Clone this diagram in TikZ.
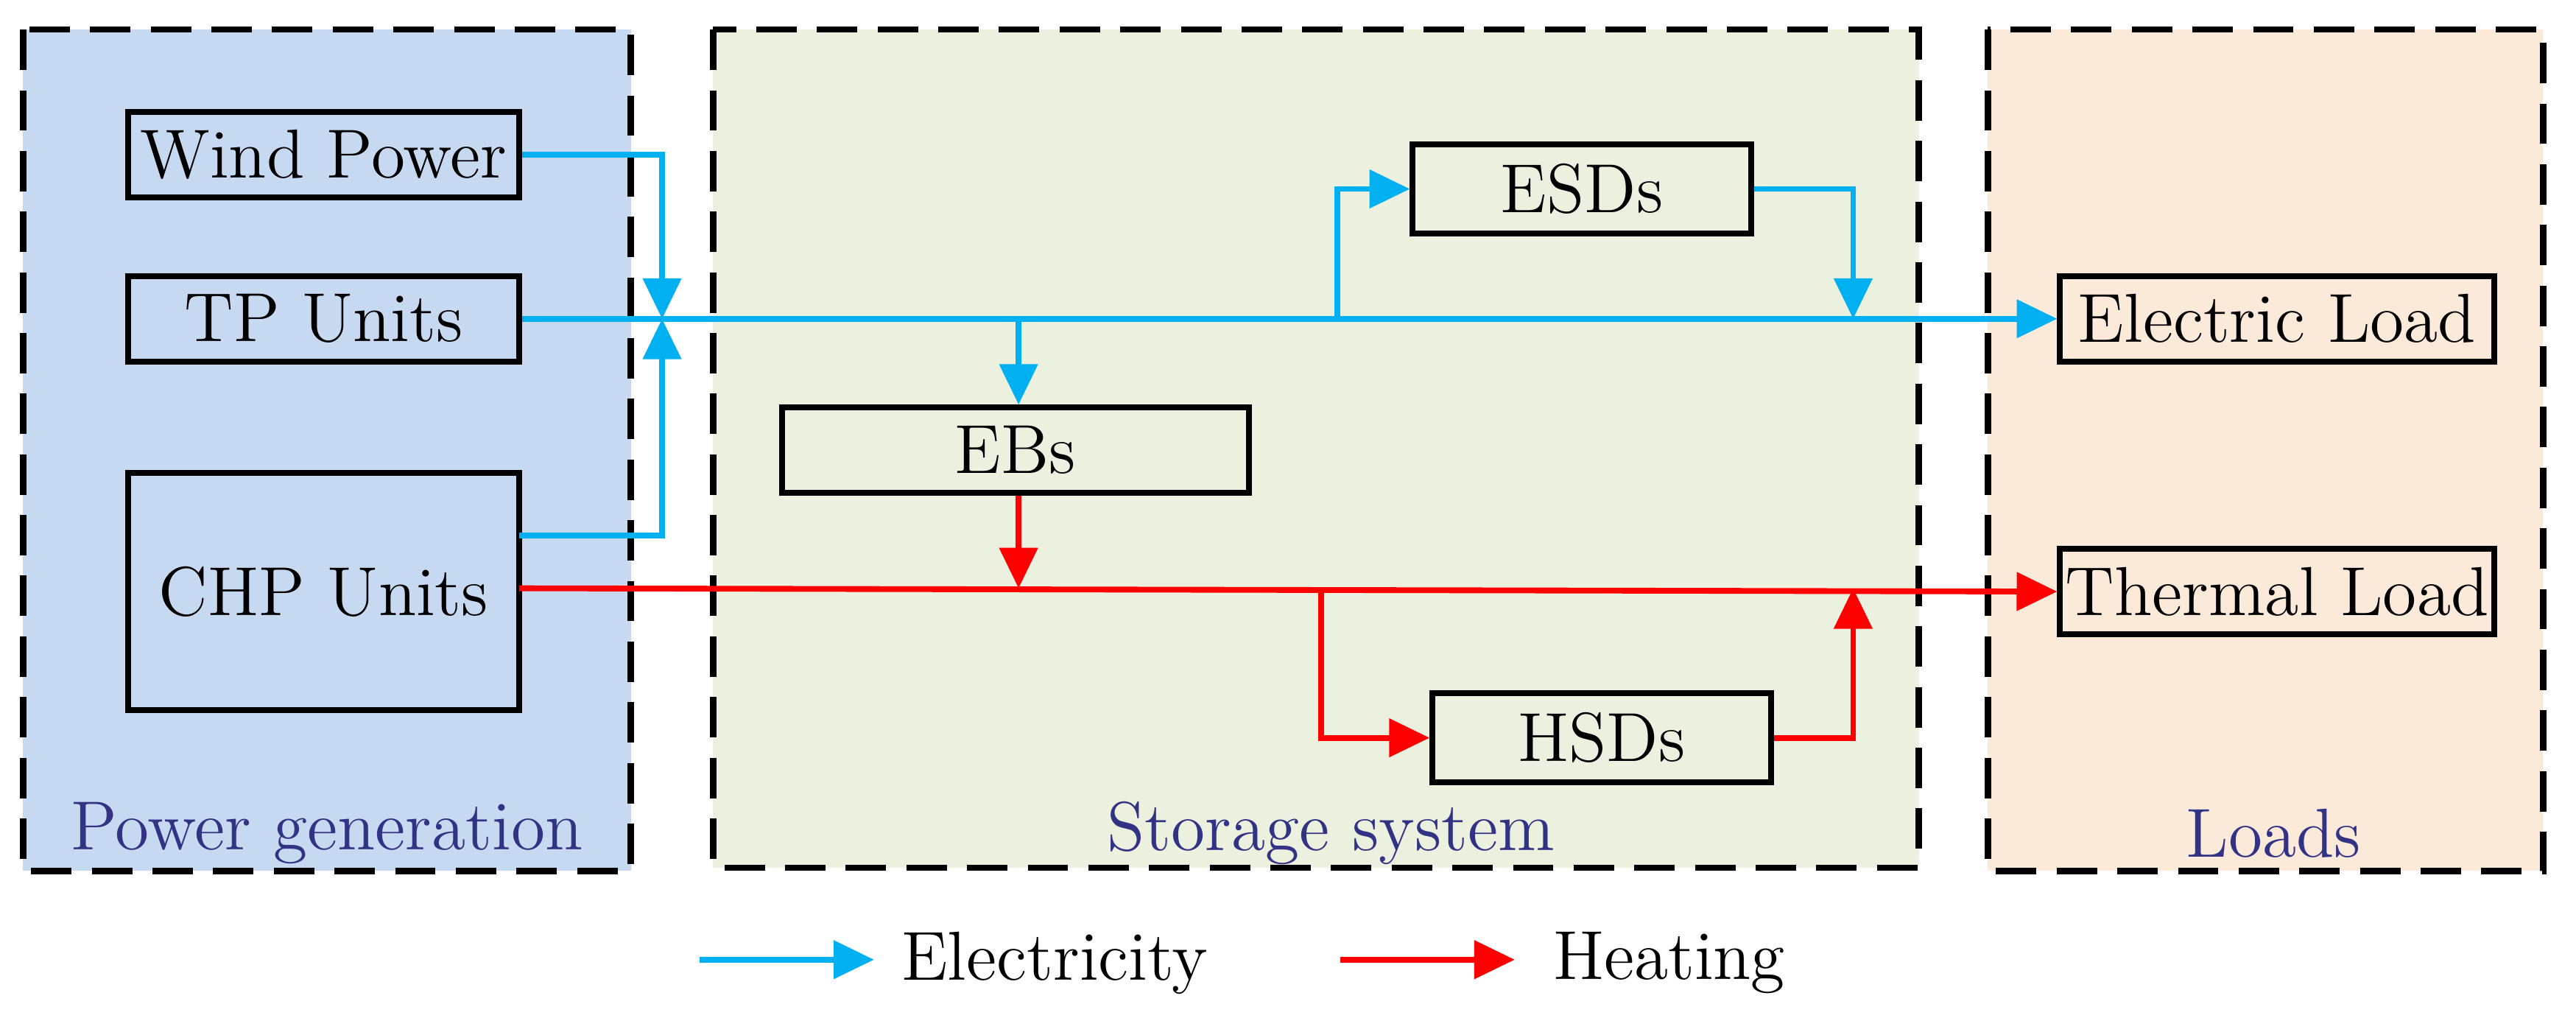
\documentclass[tikz,border=0pt]{standalone}
\usetikzlibrary{arrows.meta}
\begin{document}
\begin{tikzpicture}[x=0.01cm,y=-0.01cm,
  grp/.style={draw=black,line width=1.1pt,dash pattern=on 7pt off 3.5pt},
  box/.style={draw=black,line width=1pt,inner sep=0pt,font=\fontsize{12}{14}\selectfont},
  glab/.style={text=blue!40!black!80,font=\fontsize{12}{14}\selectfont},
  el/.style={draw={rgb,255:red,0;green,176;blue,240},line width=1pt,-{Triangle[length=7pt,width=6.5pt]}},
  ht/.style={draw=red,line width=1pt,-{Triangle[length=7pt,width=6.5pt]}},
  eln/.style={draw={rgb,255:red,0;green,176;blue,240},line width=1pt},
  htn/.style={draw=red,line width=1pt}]
\useasboundingbox (0,0) rectangle (1568,628);
\fill[fill={rgb,255:red,198;green,217;blue,240}] (14,18) rectangle (384,530);
\fill[fill={rgb,255:red,235;green,241;blue,222}] (434,18) rectangle (1168,528);
\fill[fill={rgb,255:red,251;green,233;blue,218}] (1210,18) rectangle (1548,530);
\draw[grp] (14,18) rectangle (384,530);
\draw[grp] (434,18) rectangle (1168,528);
\draw[grp] (1210,18) rectangle (1548,530);
\node[glab] (lpg) at (199,507) {Power generation};
\node[glab] (lss) at (810,507) {Storage system};
\node[glab] (lld) at (1384,507) {Loads};
\node[box,minimum width=2.38cm,minimum height=0.52cm] (wp) at (197,94) {Wind Power};
\node[box,minimum width=2.38cm,minimum height=0.52cm] (tp) at (197,194) {TP Units};
\node[box,minimum width=2.38cm,minimum height=1.44cm] (chp) at (197,360) {CHP Units};
\node[box,minimum width=2.84cm,minimum height=0.52cm] (eb) at (618,274) {EBs};
\node[box,minimum width=2.06cm,minimum height=0.54cm] (esd) at (963,115) {ESDs};
\node[box,minimum width=2.06cm,minimum height=0.54cm] (hsd) at (975,449) {HSDs};
\node[box,minimum width=2.64cm,minimum height=0.52cm] (eload) at (1386,194) {Electric Load};
\node[box,minimum width=2.64cm,minimum height=0.52cm] (tload) at (1386,360) {Thermal Load};
\coordinate (j) at (403,194);
\coordinate (jb) at (620,194);
\coordinate (je) at (814,194);
\coordinate (jo) at (1128,194);
\coordinate (jh) at (620,358);
\coordinate (jr) at (804,358);
\coordinate (ji) at (1128,358);
% electricity
\draw[el] (tp.east) -- (eload.west);
\draw[el] (wp.east) -| (j);
\draw[el] (316,326) -| (j);
\draw[el] (je) |- (esd.west);
\draw[el] (esd.east) -| (jo);
\draw[el] (jb) -- (eb.north -| jb);
% heating
\draw[ht] (316,358) -- (tload.west);
\draw[ht] (eb.south -| jh) -- (jh);
\draw[ht] (jr) |- (hsd.west);
\draw[ht] (hsd.east) -| (ji);
% legend
\coordinate (l1a) at (426,584); \coordinate (l1b) at (532,584);
\coordinate (l2a) at (816,584); \coordinate (l2b) at (922,584);
\draw[el] (l1a) -- (l1b);
\draw[ht] (l2a) -- (l2b);
\node[font=\fontsize{12}{14}\selectfont] (le) at (642,586) {Electricity};
\node[font=\fontsize{12}{14}\selectfont] (lh) at (1016,586) {Heating};
\end{tikzpicture}
\end{document}
